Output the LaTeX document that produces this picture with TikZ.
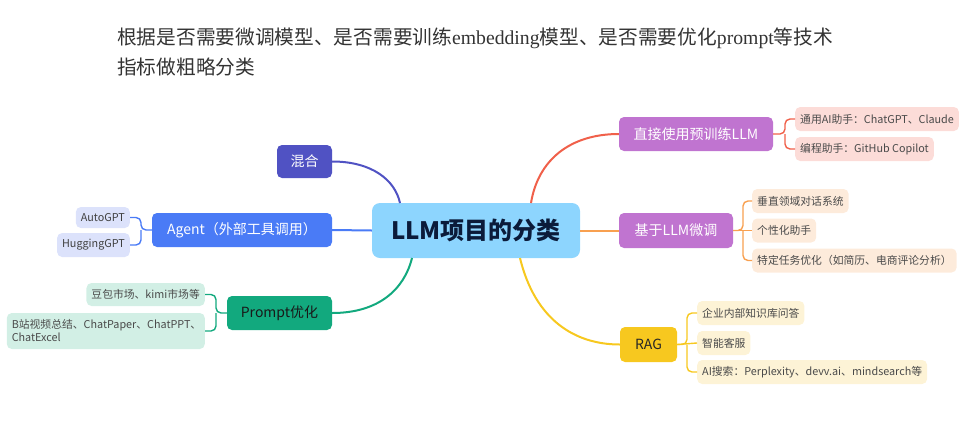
\documentclass[tikz,border=0pt]{standalone}
\usepackage{fontspec}
\setmainfont{Noto Sans CJK SC}
\newfontfamily\cjk{Noto Sans CJK SC}
\newfontfamily\serifl{Liberation Serif}
\definecolor{centerc}{HTML}{8DD5FE}
\definecolor{purplec}{HTML}{C074D0}
\definecolor{pinkc}{HTML}{FCDCD8}
\definecolor{peachc}{HTML}{FDEBDB}
\definecolor{redl}{HTML}{F0604A}
\definecolor{orangel}{HTML}{F8A050}
\definecolor{yellowc}{HTML}{F7C81F}
\definecolor{yellowch}{HTML}{FDF3D6}
\definecolor{indigoc}{HTML}{5052C3}
\definecolor{bluec}{HTML}{4A7BF6}
\definecolor{bluech}{HTML}{DCE2FB}
\definecolor{greenc}{HTML}{12A97E}
\definecolor{greench}{HTML}{D2EFE5}
\definecolor{navy}{HTML}{0B1B3A}
\definecolor{childtext}{HTML}{4A4A4A}
\tikzset{
  mainbox/.style={rounded corners=5pt, inner sep=0pt, minimum height=34pt, font=\fontsize{14}{16}\selectfont, text=white},
  childbox/.style={rounded corners=5pt, inner xsep=5pt, inner ysep=0pt, minimum height=24pt, font=\fontsize{10.8}{13}\selectfont, text=childtext},
  link/.style={line width=2pt},
  brk/.style={line width=1.4pt, rounded corners=5pt},
}
\begin{document}
\begin{tikzpicture}[x=1pt, y=-1pt]
\useasboundingbox (0,0) rectangle (970,424);
% title
\node[anchor=west, inner sep=0pt, text=black!80, font=\fontsize{19.7}{24}\selectfont] (t1) at (117,38)
  {\cjk 根据是否需要微调模型、是否需要训练{\serifl embedding}模型、是否需要优化{\serifl prompt}等技术};
\node[anchor=west, inner sep=0pt, text=black!80, font=\fontsize{19.7}{24}\selectfont] (t2) at (117,67)
  {\cjk 指标做粗略分类};
% center
\node[fill=centerc, rounded corners=8pt, minimum width=208pt, minimum height=55pt, inner sep=0pt,
  text=navy, font=\fontsize{24}{28}\selectfont\bfseries] (c) at (476,230.5) {LLM项目的分类};
% main branches
\node[mainbox, fill=purplec, minimum width=154pt] (d1) at (696,134) {直接使用预训练LLM};
\node[mainbox, fill=purplec, minimum width=114pt, minimum height=35pt] (d2) at (676,230.5) {基于LLM微调};
\node[mainbox, fill=yellowc, minimum width=57pt, minimum height=35pt, text=black!85] (d3) at (648.5,344.5) {RAG};
\node[mainbox, fill=indigoc, minimum width=55pt, minimum height=33pt] (l1) at (304.5,161.5) {混合};
\node[mainbox, fill=bluec, minimum width=180pt] (l2) at (242,230) {Agent（外部工具调用）};
\node[mainbox, fill=greenc, minimum width=105pt, text=black!90] (l3) at (279.5,313) {Prompt优化};
% children right
\node[childbox, fill=pinkc, anchor=west] (a1) at (795,119) {通用AI助手：ChatGPT、Claude};
\node[childbox, fill=pinkc, anchor=west] (a2) at (795,149) {编程助手：GitHub Copilot};
\node[childbox, fill=peachc, anchor=west] (b1) at (752,201) {垂直领域对话系统};
\node[childbox, fill=peachc, anchor=west] (b2) at (752,230.5) {个性化助手};
\node[childbox, fill=peachc, anchor=west] (b3) at (752,260.5) {特定任务优化（如简历、电商评论分析）};
\node[childbox, fill=yellowch, anchor=west] (r1) at (697,313) {企业内部知识库问答};
\node[childbox, fill=yellowch, anchor=west] (r2) at (697,343) {智能客服};
\node[childbox, fill=yellowch, anchor=west] (r3) at (697,372) {AI搜索：Perplexity、devv.ai、mindsearch等};
% children left
\node[childbox, fill=bluech, anchor=east, minimum height=21pt, text=black!75] (g1) at (130,217.5) {AutoGPT};
\node[childbox, fill=bluech, anchor=east, text=black!75] (g2) at (130,245) {HuggingGPT};
\node[childbox, fill=greench, anchor=east, minimum height=23pt] (p1) at (205,294.5) {豆包市场、kimi市场等};
\node[childbox, fill=greench, anchor=east, minimum height=36pt, align=left, text width=188pt] (p2) at (205,331)
  {B站视频总结、ChatPaper、ChatPPT、\\ChatExcel};
% connector anchor coordinates
\coordinate (cN1) at (531,203);
\coordinate (cN2) at (400,203);
\coordinate (cS1) at (520,258);
\coordinate (cS2) at (412,258);
\coordinate (k1) at (785,134);
\coordinate (k2) at (743,230.5);
\coordinate (k3) at (687,344.5);
\coordinate (k4) at (141,230);
\coordinate (k5) at (216,313);
% main connectors
\draw[link, redl] (cN1) .. controls (538,160) and (570,134) .. (d1.west);
\draw[link, orangel] (c.east) -- (d2.west);
\draw[link, yellowc] (cS1) .. controls (535,320) and (575,344.5) .. (d3.west);
\draw[link, indigoc] (l1.east) .. controls (372,161.5) and (395,180) .. (cN2);
\draw[link, bluec] (l2.east) -- (c.west);
\draw[link, greenc] (l3.east) .. controls (378,313) and (404,290) .. (cS2);
% brackets
\draw[brk, redl] (d1.east) -- (k1) |- (a1.west);
\draw[brk, redl] (k1) |- (a2.west);
\draw[brk, orangel] (d2.east) -- (k2) |- (b1.west);
\draw[brk, orangel] (k2) |- (b3.west);
\draw[brk, orangel] (d2.east) -- (b2.west);
\draw[brk, yellowc] (d3.east) -- (k3) |- (r1.west);
\draw[brk, yellowc] (k3) |- (r3.west);
\draw[brk, yellowc] (d3.east) -- (r2.west);
\draw[brk, bluec] (l2.west) -- (k4) |- (g1.east);
\draw[brk, bluec] (k4) |- (g2.east);
\draw[brk, greenc] (l3.west) -- (k5) |- (p1.east);
\draw[brk, greenc] (k5) |- (p2.east);
\end{tikzpicture}
\end{document}
